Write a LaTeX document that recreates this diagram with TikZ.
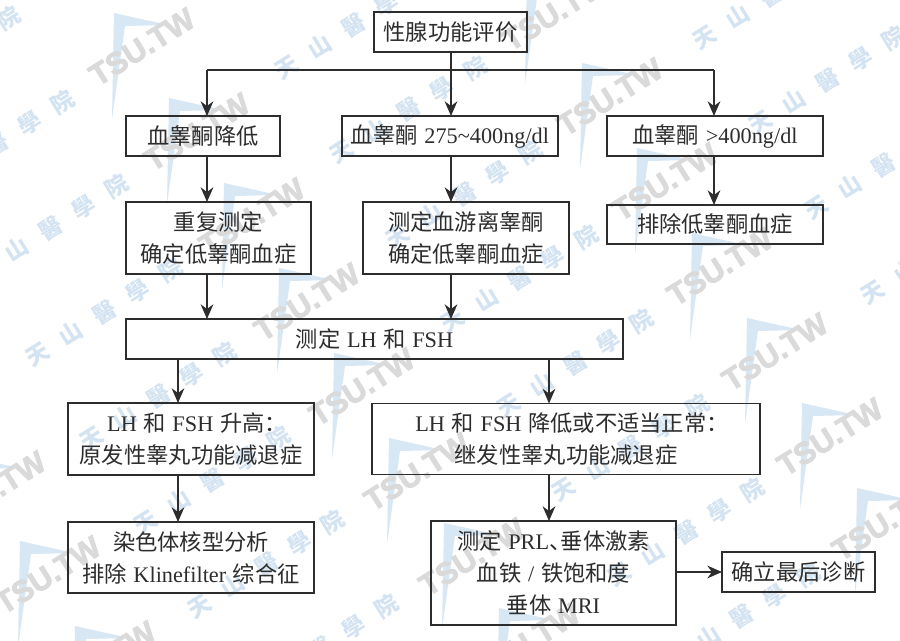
\documentclass[tikz,border=0pt]{standalone}
\usepackage{fontspec}
\setmainfont[WordSpace=1.2]{Liberation Serif}
\newfontfamily\cjk{Noto Sans CJK SC}
\newfontfamily\wmfont[BoldFeatures={FakeBold=2.5}]{Liberation Sans}
\usepackage{xcolor}
\usetikzlibrary{arrows.meta}
\definecolor{inkgray}{RGB}{45,45,45}
\definecolor{wmblue}{RGB}{216,231,244}
\definecolor{wmzh}{RGB}{212,227,241}
\definecolor{wmgray}{RGB}{218,218,218}
\newdimen\unitpx
\unitpx=0.75pt
\newcommand{\zh}[1]{{\cjk #1}}
\newcommand{\tsumark}[3]{%
\begin{scope}[shift={(#2,#3)}]
\fill[wmblue] (-28,-34) -- (26,-22) -- (-17,-21) -- (-30,72) -- cycle;
\node[wmgray,rotate=32,font=\wmfont\bfseries\fontsize{23}{25}\selectfont] (#1) at (0,0) {TSU.TW};
\end{scope}}
\newcommand{\zhmark}[3]{\node[wmzh,rotate=32,font=\cjk\bfseries\fontsize{17}{20}\selectfont] (#1) at (#2,#3) {天\hspace{12.5pt}山\hspace{12.5pt}醫\hspace{12.5pt}學\hspace{12.5pt}院};}
\begin{document}
\begin{tikzpicture}[x=0.75pt,y=-0.75pt,>={Stealth[length=11pt,width=9.5pt,inset=3.5pt]},
 flowbox/.style={draw=inkgray,line width=1.1pt,inner sep=0pt,outer sep=0pt,align=center,text=inkgray,font=\fontsize{16.7}{24}\selectfont},
 flowline/.style={draw=inkgray,line width=1.1pt}]
\useasboundingbox (0,0) rectangle (900,641);
\fill[white] (0,0) rectangle (900,641);
\foreach \k in {0,...,7} {\tsumark{tsua\k}{{142+55*\k}}{{47+85*\k}}}
\foreach \k in {0,...,6} {\tsumark{tsub\k}{{555+55*\k}}{{12+85*\k}}}
\foreach \k in {0,...,2} {\tsumark{tsuc\k}{{-7+55*\k}}{{490+85*\k}}}
\foreach \k in {0,...,7} {\zhmark{zha\k}{{-58+54*\k}}{{60+84*\k}}}
\foreach \k in {0,...,7} {\zhmark{zhb\k}{{353+55.5*\k}}{{25+84.5*\k}}}
\foreach \k in {0,...,3} {\zhmark{zhc\k}{{771+56*\k}}{{-5+85*\k}}}
\node[flowbox,minimum width=153\unitpx,minimum height=40\unitpx] (top) at (450.5,32) {\zh{性腺功能评价}};
\node[flowbox,minimum width=154\unitpx,minimum height=40\unitpx] (lowT) at (203,136) {\zh{血睾酮降低}};
\node[flowbox,minimum width=216\unitpx,minimum height=40\unitpx] (midT) at (450,136) {\zh{血睾酮} 275\textasciitilde 400ng/dl};
\node[flowbox,minimum width=216\unitpx,minimum height=40\unitpx] (highT) at (715,136) {\zh{血睾酮} >400ng/dl};
\node[flowbox,minimum width=185\unitpx,minimum height=72\unitpx] (repeat) at (218.5,238) {\zh{重复测定}\\\zh{确定低睾酮血症}};
\node[flowbox,minimum width=206\unitpx,minimum height=72\unitpx] (free) at (466,238) {\zh{测定血游离睾酮}\\\zh{确定低睾酮血症}};
\node[flowbox,minimum width=216\unitpx,minimum height=39\unitpx] (excl) at (715,224.5) {\zh{排除低睾酮血症}};
\node[flowbox,minimum width=497\unitpx,minimum height=40\unitpx] (lhfsh) at (374.5,339) {\zh{测定} LH \zh{和} FSH};
\node[flowbox,minimum width=246\unitpx,minimum height=72\unitpx] (up) at (191,439) {LH \zh{和} FSH \zh{升高：}\kern-9pt\\\zh{原发性睾丸功能减退症}};
\node[flowbox,minimum width=388\unitpx,minimum height=71\unitpx] (down) at (566,439) {LH \zh{和} FSH \zh{降低或不适当正常：}\kern-9pt\\\zh{继发性睾丸功能减退症}};
\node[flowbox,minimum width=246\unitpx,minimum height=71\unitpx] (karyo) at (191,557.5) {\zh{染色体核型分析}\\\zh{排除} Klinefilter \zh{综合征}};
\node[flowbox,minimum width=245\unitpx,minimum height=104\unitpx] (prl) at (553.5,573) {\zh{测定} PRL\zh{、}\kern-8pt\zh{垂体激素}\\\zh{血铁} / \zh{铁饱和度}\\\zh{垂体} MRI};
\node[flowbox,minimum width=153\unitpx,minimum height=40\unitpx] (final) at (798.5,572) {\zh{确立最后诊断}};
\coordinate (lc) at (207,70);
\coordinate (mc) at (451,70);
\coordinate (rc) at (714,70);
\coordinate (fc) at (178,381);
\coordinate (sc) at (549,381);
\draw[flowline] (mc |- top.south) -- (mc);
\draw[flowline] (lc) -- (rc);
\draw[flowline,->] (lc) -- (lc |- lowT.north);
\draw[flowline,->] (mc) -- (mc |- midT.north);
\draw[flowline,->] (rc) -- (rc |- highT.north);
\draw[flowline,->] (lc |- lowT.south) -- (lc |- repeat.north);
\draw[flowline,->] (mc |- midT.south) -- (mc |- free.north);
\draw[flowline,->] (rc |- highT.south) -- (rc |- excl.north);
\draw[flowline,->] (lc |- repeat.south) -- (lc |- lhfsh.north);
\draw[flowline,->] (mc |- free.south) -- (mc |- lhfsh.north);
\draw[flowline,->] (fc |- lhfsh.south) -- (fc |- up.north);
\draw[flowline,->] (sc |- lhfsh.south) -- (sc |- down.north);
\draw[flowline,->] (fc |- up.south) -- (fc |- karyo.north);
\draw[flowline,->] (sc |- down.south) -- (sc |- prl.north);
\draw[flowline,->] (prl.east |- final.west) -- (final.west);
\end{tikzpicture}
\end{document}
